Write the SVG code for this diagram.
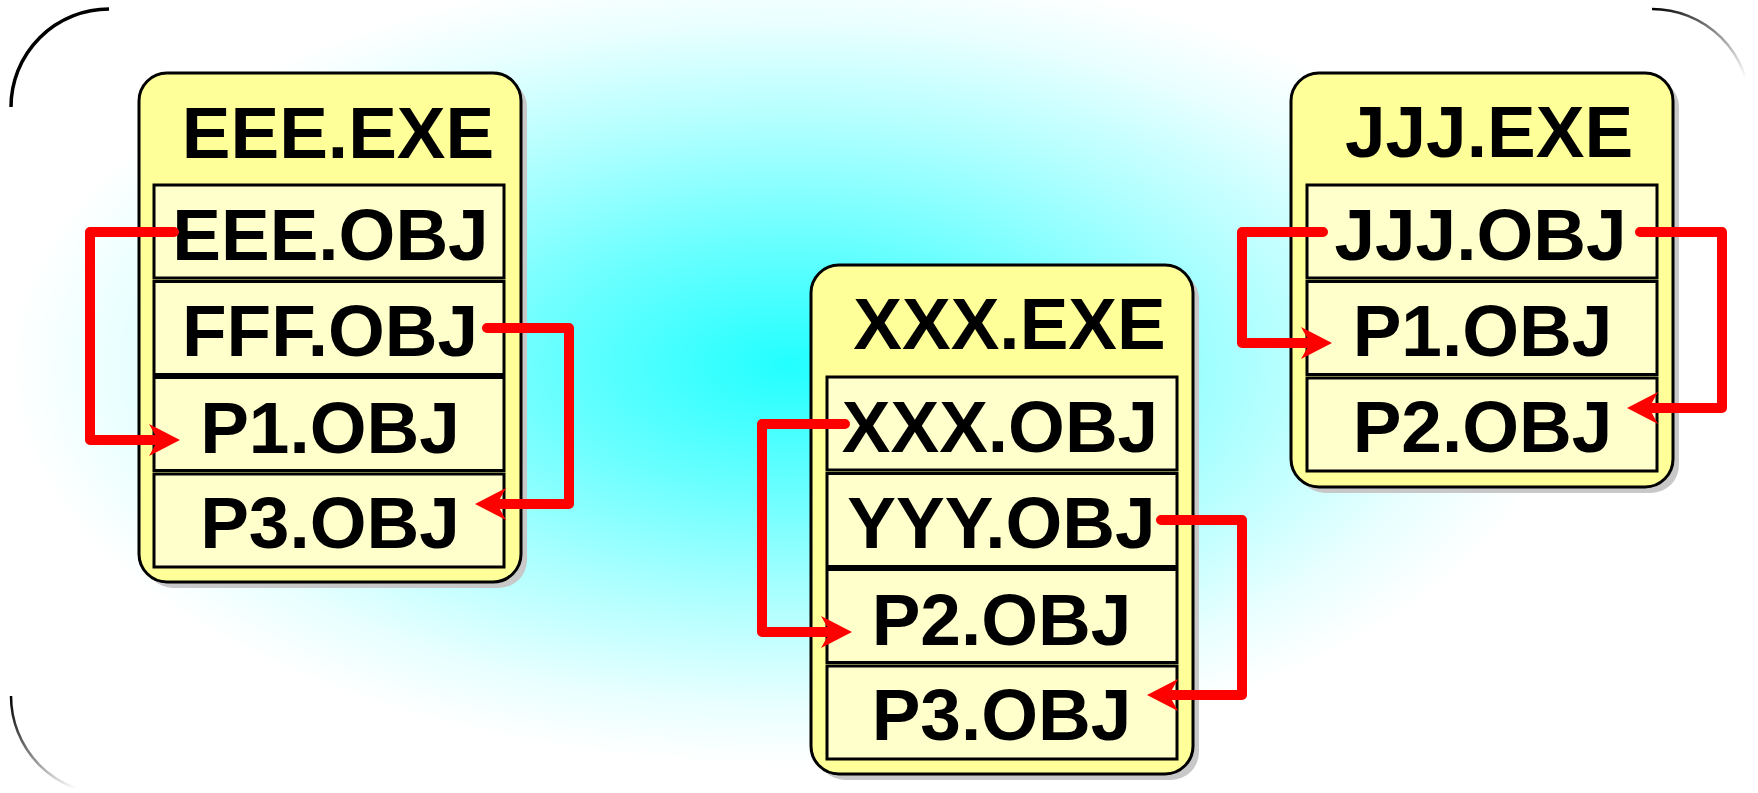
<svg xmlns="http://www.w3.org/2000/svg" width="1758" height="793" viewBox="0 0 1758 793">
  <defs>
    <radialGradient id="bg" gradientUnits="userSpaceOnUse" cx="790" cy="365" r="400" gradientTransform="translate(790 365) scale(1.95 1) translate(-790 -365)">
      <stop offset="0" stop-color="#22ffff"/>
      <stop offset="0.3" stop-color="#66ffff"/>
      <stop offset="0.6" stop-color="#b0ffff"/>
      <stop offset="0.85" stop-color="#e8ffff"/>
      <stop offset="1" stop-color="#ffffff"/>
    </radialGradient>
    <linearGradient id="fadeTR" gradientUnits="userSpaceOnUse" x1="1652" y1="9" x2="1745" y2="80">
      <stop offset="0" stop-color="#000" stop-opacity="1"/>
      <stop offset="1" stop-color="#000" stop-opacity="0"/>
    </linearGradient>
    <linearGradient id="fadeBL" gradientUnits="userSpaceOnUse" x1="11" y1="696" x2="80" y2="785">
      <stop offset="0" stop-color="#000" stop-opacity="1"/>
      <stop offset="1" stop-color="#000" stop-opacity="0"/>
    </linearGradient>
    <marker id="arrow" markerUnits="userSpaceOnUse" markerWidth="32" markerHeight="34" refX="9" refY="16" orient="auto" overflow="visible">
      <path d="M31,16 L0,0 L9,16 L0,32 Z" fill="#ff0000"/>
    </marker>
    <style>
      .shadow { fill: #c8c8c8; }
      .box { fill: #ffff99; stroke: #000; stroke-width: 3; }
      .row { fill: #ffffcc; stroke: #000; stroke-width: 3; }
      .label { font-family: "Liberation Sans", Arial, sans-serif; font-weight: bold; font-size: 73px; fill: #000; text-anchor: middle; }
      .link { fill: none; stroke: #ff0000; stroke-width: 10; stroke-linejoin: round; stroke-linecap: round; marker-end: url(#arrow); }
    </style>
  </defs>

  <!-- backdrop -->
  <rect x="0" y="0" width="1758" height="793" fill="url(#bg)"/>

  <!-- frame corners -->
  <g id="frame" fill="none">
    <path d="M11,107 A98,98 0 0 1 109,9" stroke="#000" stroke-width="3.5"/>
    <path d="M1652,9 A98,98 0 0 1 1750,107" stroke="url(#fadeTR)" stroke-width="2.5"/>
    <path d="M11,696 A98,98 0 0 0 109,794" stroke="url(#fadeBL)" stroke-width="2.5"/>
  </g>

  <!-- EEE.EXE -->
  <g id="eee-exe">
    <rect class="shadow" x="145" y="79" width="382" height="509" rx="28"/>
    <rect class="box" x="139" y="73" width="382" height="509" rx="28"/>
    <text class="label" x="338" y="158">EEE.EXE</text>
    <rect class="row" x="154" y="185" width="350" height="93"/>
    <rect class="row" x="154" y="281.5" width="350" height="93"/>
    <rect class="row" x="154" y="377.5" width="350" height="93"/>
    <rect class="row" x="154" y="474" width="350" height="93"/>
    <text class="label" x="330.5" y="260">EEE.OBJ</text>
    <text class="label" x="330" y="356">FFF.OBJ</text>
    <text class="label" x="330" y="453">P1.OBJ</text>
    <text class="label" x="330" y="548">P3.OBJ</text>
  </g>

  <!-- XXX.EXE -->
  <g id="xxx-exe">
    <rect class="shadow" x="817" y="271" width="382" height="509" rx="28"/>
    <rect class="box" x="811" y="265" width="382" height="509" rx="28"/>
    <text class="label" x="1009.5" y="349">XXX.EXE</text>
    <rect class="row" x="827" y="377" width="350" height="93"/>
    <rect class="row" x="827" y="473.5" width="350" height="93"/>
    <rect class="row" x="827" y="569.5" width="350" height="93"/>
    <rect class="row" x="827" y="666" width="350" height="93"/>
    <text class="label" x="1000" y="452">XXX.OBJ</text>
    <text class="label" x="1001.5" y="548">YYY.OBJ</text>
    <text class="label" x="1001.5" y="645">P2.OBJ</text>
    <text class="label" x="1001.5" y="740">P3.OBJ</text>
  </g>

  <!-- JJJ.EXE -->
  <g id="jjj-exe">
    <rect class="shadow" x="1297" y="79" width="382" height="414" rx="28"/>
    <rect class="box" x="1291" y="73" width="382" height="414" rx="28"/>
    <text class="label" x="1489" y="157">JJJ.EXE</text>
    <rect class="row" x="1307" y="185" width="350" height="93"/>
    <rect class="row" x="1307" y="281.5" width="350" height="93"/>
    <rect class="row" x="1307" y="378" width="350" height="93"/>
    <text class="label" x="1480.5" y="260">JJJ.OBJ</text>
    <text class="label" x="1482.5" y="356">P1.OBJ</text>
    <text class="label" x="1482.5" y="452">P2.OBJ</text>
  </g>

  <!-- references between object files -->
  <g id="connectors">
    <path class="link" d="M174,232 H90 V440 H158"/>
    <path class="link" d="M487,328 H569 V504 H497"/>
    <path class="link" d="M845,424 H762 V632 H830"/>
    <path class="link" d="M1161,520 H1242 V695 H1169"/>
    <path class="link" d="M1323,232 H1242 V343 H1310"/>
    <path class="link" d="M1640,232 H1722 V408 H1649"/>
  </g>
</svg>
